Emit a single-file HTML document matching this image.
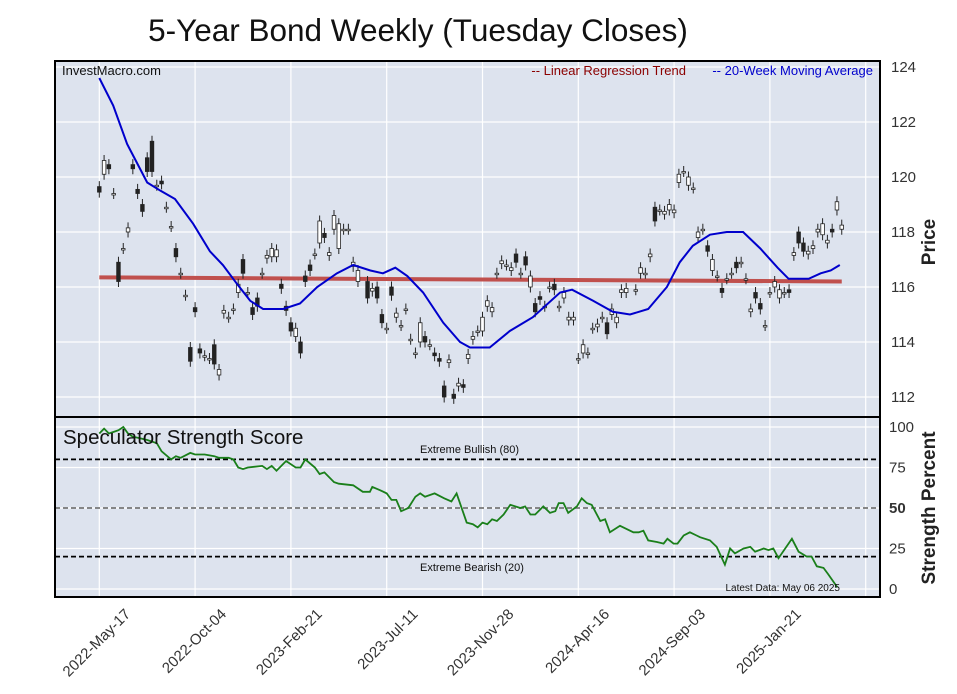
<!DOCTYPE html>
<html><head><meta charset="utf-8">
<style>
html,body{margin:0;padding:0;background:#fff;}
svg{display:block;font-family:"Liberation Sans",Arial,sans-serif;}
</style></head>
<body>
<svg id="chart" width="957" height="694" viewBox="0 0 957 694" xmlns="http://www.w3.org/2000/svg">
<text x="418" y="41" font-size="31.5" text-anchor="middle" fill="#111">5-Year Bond Weekly (Tuesday Closes)</text>
<rect x="55" y="61" width="825" height="356" fill="#dde3ee"/>
<rect x="55" y="417" width="825" height="180" fill="#dde3ee"/>
<g id="grid"></g>
<g id="marks"></g>
<rect x="55" y="61" width="825" height="356" fill="none" stroke="#000" stroke-width="2"/>
<rect x="55" y="417" width="825" height="180" fill="none" stroke="#000" stroke-width="2"/>
<text x="62" y="75" font-size="13" fill="#111">InvestMacro.com</text>
<text x="686" y="75" font-size="13" fill="#8b0000" text-anchor="end">-- Linear Regression Trend</text>
<text x="873" y="75" font-size="13" fill="#0000cc" text-anchor="end">-- 20-Week Moving Average</text>
<text x="63" y="444" font-size="20.5" fill="#111">Speculator Strength Score</text>
<text x="420" y="453" font-size="11" fill="#111">Extreme Bullish (80)</text>
<text x="420" y="571" font-size="11" fill="#111">Extreme Bearish (20)</text>
<text x="840" y="591" font-size="10" fill="#111" text-anchor="end">Latest Data: May 06 2025</text>
<text transform="translate(935,242) rotate(-90)" font-size="19" font-weight="bold" fill="#222" text-anchor="middle">Price</text>
<text transform="translate(935,508) rotate(-90)" font-size="19" font-weight="bold" fill="#222" text-anchor="middle">Strength Percent</text>
<g id="axes"></g>
</svg>
<script>
const xTickLabels=["2022-May-17","2022-Oct-04","2023-Feb-21","2023-Jul-11","2023-Nov-28","2024-Apr-16","2024-Sep-03","2025-Jan-21",""];
const xTickWeeks=[0,20,40,60,80,100,120,140,160];
const priceTicks=[112,114,116,118,120,122,124];
const strengthTicks=[0,25,50,75,100];
const opens=[119.65,120.1,120.45,119.4,116.9,117.4,118.0,120.45,119.55,119.0,120.7,121.3,119.7,119.85,118.9,118.2,117.4,116.5,115.7,113.8,115.25,113.75,113.5,113.4,113.9,112.8,115.05,114.9,115.2,115.8,117.0,115.8,115.25,115.6,116.5,117.05,117.1,117.1,116.1,115.3,114.7,114.2,114.0,116.4,116.8,117.2,117.6,117.95,117.15,118.1,117.4,118.1,118.1,116.75,116.2,null,116.2,115.85,116.0,115.0,114.5,116.0,114.9,114.6,115.2,114.1,113.6,114.0,114.2,113.9,113.6,113.4,112.4,113.25,112.1,112.4,112.45,113.4,114.1,114.4,114.4,115.3,115.1,116.5,116.85,116.8,116.6,117.2,116.5,117.1,116.0,115.4,115.65,115.3,116.0,116.1,115.3,115.6,114.8,114.8,113.4,113.6,113.6,114.5,114.55,114.9,114.7,115.0,114.7,115.8,115.8,null,115.9,116.5,116.5,117.1,118.9,118.8,118.65,118.8,118.7,119.8,120.2,119.7,119.6,117.8,118.1,117.5,116.6,116.4,115.95,116.3,116.5,116.9,116.9,116.3,115.1,115.8,115.4,114.6,115.8,116.0,115.6,115.8,115.9,117.15,118.0,117.6,117.2,117.4,118.0,117.9,117.6,118.1,118.8,118.1];
const closes=[119.45,120.6,120.3,119.4,116.2,117.4,118.15,120.3,119.4,118.75,120.2,120.2,119.7,119.75,118.9,118.2,117.1,116.5,115.7,113.3,115.1,113.6,113.5,113.4,113.2,113.0,115.15,114.9,115.2,116.1,116.5,115.8,115.0,115.3,116.5,117.15,117.4,117.35,115.95,115.15,114.4,114.5,113.6,116.2,116.6,117.2,118.4,117.8,117.25,118.6,118.3,118.1,118.1,116.9,116.6,null,115.6,115.95,115.6,114.7,114.5,115.7,115.05,114.6,115.2,114.1,113.6,114.7,114.0,113.9,113.5,113.3,112.0,113.35,111.95,112.5,112.35,113.55,114.2,114.4,114.9,115.5,115.25,116.5,116.95,116.8,116.7,116.9,116.5,116.8,116.4,115.1,115.55,115.3,116.0,115.9,115.3,115.8,114.9,114.9,113.4,113.9,113.6,114.5,114.65,114.9,114.3,115.2,114.9,115.9,115.95,null,115.9,116.7,116.5,117.2,118.4,118.8,118.75,119.0,118.8,120.1,120.2,120.0,119.6,118.0,118.1,117.3,117.0,116.4,115.8,116.3,116.5,116.7,116.9,116.3,115.2,115.6,115.2,114.6,115.8,116.2,115.9,115.8,115.8,117.25,117.6,117.3,117.3,117.5,118.1,118.3,117.7,118.0,119.1,118.25];
const maWeeks=[0,2.9,5.8,10,12.8,15.8,19.6,23.1,25.8,28.8,31.5,34.2,38.4,41.9,45.5,49.6,53,56.6,59.2,61.8,64.3,67.6,71.8,75.3,77.4,81.5,85.7,90.5,96.2,98.7,103.1,107.2,110.8,114.6,118.5,121.2,123.9,127.5,131,134.4,138,141.6,143.9,148.1,150.6,152.7,154.6];
const maValues=[123.6,122.6,121.2,119.8,119.5,119.2,118.3,117.3,116.8,116.1,115.5,115.2,115.2,115.4,116.0,116.5,116.8,116.6,116.5,116.7,116.4,115.8,114.7,114.0,113.8,113.8,114.4,114.9,115.8,115.9,115.5,115.1,115.0,115.2,116.0,116.9,117.5,117.9,118.0,118.0,117.4,116.7,116.3,116.3,116.5,116.6,116.8];
const regStartWeek=0, regEndWeek=155, regStartValue=116.35, regEndValue=116.2;
const scoreWeeks=[0,1,2,3,4,5,6,7,8.5,10,11,12,13,15,16,17,19,20,22,24,25,27,28,29,30,31,34,35,36,37,39,41,42,43,45,46,47,49,50,53,55,56.5,57,58.6,60,61,62,63,64.5,66,67,68,70,72,73.5,74.6,76.7,78,79,80,81,82,83,84.4,85.8,87.9,88.9,90,91,92.7,94.1,95.2,95.9,96.9,97.9,99.7,100.7,101.8,102.8,104.6,105.6,106.6,108.7,110.1,111.5,112.6,113.6,114.6,116.4,117.8,118.6,119.9,120.7,122,123.3,124.7,125.4,127.5,128.9,130.6,131.7,132.7,134.5,135.9,136.9,138.7,139.7,140.7,141.8,144.6,146,147.7,148.7,149.8,151.2,152.2,154.1];
const scoreValues=[96,99,96,97,98,100,96,94,93,92,91,90,85,80,82,81,84,83,83,82,81,81,80,75,74,75,76,74,76,73,79,75,75,80,75,71,72,66,65,64,60,60,63,61,59,55,55,48,50,57,59,57,59,56,54,59,41,40,38,41,40,43,42,46,52,50,51,46,46,51,47,48,53,53,47,51,56,53,52,42,43,35,39,37,35,35,36,30,29,28,31,28,28,33,35,33,32,30,26,15,25,22,25,26,23,25,24,25,19,31,23,20,20,14,13,9,1];

const NS="http://www.w3.org/2000/svg";
const xS=w=>99.3+w*4.79;
const yP=p=>67+(124-p)*27.5;
const yS=s=>589-s*1.62;
function mk(tag,attrs,parent){const e=document.createElementNS(NS,tag);for(const k in attrs)e.setAttribute(k,attrs[k]);parent.appendChild(e);return e;}
const grid=document.getElementById('grid'),marks=document.getElementById('marks'),axes=document.getElementById('axes');

xTickWeeks.forEach((w,i)=>{
  const x=xS(w);
  const g1=mk('line',{x1:x,x2:x,y1:61,y2:417,stroke:'#fff','stroke-width':1.2},grid);
  
  
  const g2=mk('line',{x1:x,x2:x,y1:417,y2:597,stroke:'#fff','stroke-width':1.2},grid);
  
  
  if(xTickLabels[i]){
    const t=mk('text',{transform:`translate(${x+32},${615}) rotate(-45)`,'font-size':15,'text-anchor':'end',fill:'#333'},axes);
    t.textContent=xTickLabels[i];
    
    
  }
});
priceTicks.forEach(p=>{
  const y=yP(p);
  const g=mk('line',{x1:55,x2:880,y1:y,y2:y,stroke:'#fff','stroke-width':1.2},grid);
  
  
  const t=mk('text',{x:891,y:y+5,'font-size':15,fill:'#333'},axes);
  t.textContent=p;
  
  
});
strengthTicks.forEach(s=>{
  const y=yS(s);
  const g=mk('line',{x1:55,x2:880,y1:y,y2:y,stroke:'#fff','stroke-width':1.2},grid);
  
  
  const t=mk('text',{x:889,y:y+5,'font-size':15,fill:'#333','font-weight':s===50?'bold':'normal'},axes);
  t.textContent=s;
  
  
});
[[80,'#000','extreme-bullish-line'],[50,'#777','midline-50'],[20,'#000','extreme-bearish-line']].forEach(([v,c,n])=>{
  const l=mk('line',{x1:55,x2:880,y1:yS(v),y2:yS(v),stroke:c,'stroke-width':1.8,'stroke-dasharray':'5,3'},grid);
  
  
});

const reg=mk('line',{x1:xS(regStartWeek),x2:xS(regEndWeek),y1:yP(regStartValue),y2:yP(regEndValue),stroke:'#c0504d','stroke-width':4},marks);



opens.forEach((o,i)=>{
  const c=closes[i]; if(o===null||c===null)return;
  const x=xS(i), top=Math.max(o,c), bot=Math.min(o,c);
  const w=mk('line',{x1:x,x2:x,y1:yP(top+0.2),y2:yP(bot-0.2),stroke:'#222','stroke-width':1},marks);
  
  
  const h=Math.max(1.5,yP(bot)-yP(top));
  const r=mk('rect',{x:x-1.8,y:yP(top),width:3.6,height:h,fill:c>=o?'#fff':'#222',stroke:'#222','stroke-width':0.8},marks);
  
  
});

const ma=mk('path',{d:maWeeks.map((w,i)=>(i?'L':'M')+xS(w).toFixed(1)+','+yP(maValues[i]).toFixed(1)).join(''),fill:'none',stroke:'#0000cc','stroke-width':2},marks);



const sl=mk('path',{d:scoreWeeks.map((w,i)=>(i?'L':'M')+xS(w).toFixed(1)+','+yS(scoreValues[i]).toFixed(1)).join(''),fill:'none',stroke:'#1a7f1a','stroke-width':1.8},marks);


</script>
</body></html>
